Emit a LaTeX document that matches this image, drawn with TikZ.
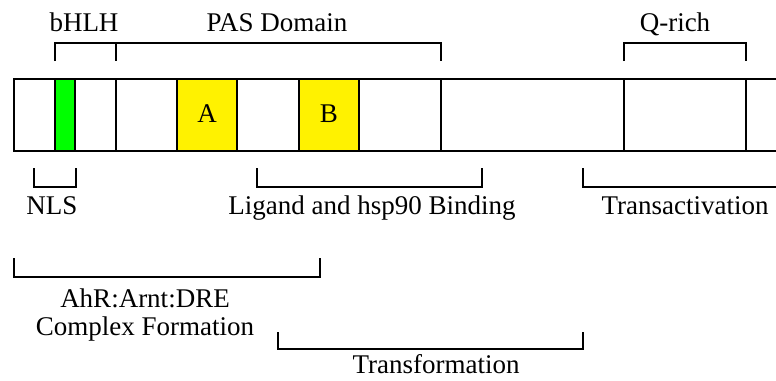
\documentclass[tikz,border=0pt]{standalone}
\usepackage{fontspec}
\setmainfont{Liberation Serif}
\begin{document}
\begin{tikzpicture}[x=1pt,y=-1pt,
  ln/.style={line width=1.6pt,black},
  lbl/.style={inner sep=0pt,anchor=base,font=\fontsize{27}{29}\selectfont},
  brk/.style={ln,line cap=butt,line join=miter}]
\useasboundingbox (0,0) rectangle (776,380);
\clip (0,0) rectangle (776,380);
% coloured segments
\fill[green] (55,79) rectangle (75,151);
\fill[yellow] (177,79) rectangle (237,151);
\fill[yellow] (299,79) rectangle (359,151);
% bar outline
\draw[ln] (780,79) -- (14,79) -- (14,151) -- (780,151);
\foreach \x in {55,75,116,177,237,299,359,441,624,746}
  \draw[ln] (\x,79) -- (\x,151);
\node[lbl] (A) at (207,122) {A};
\node[lbl] (B) at (329,122) {B};
% top brackets
\draw[brk] (55,61) -- (55,43) -- (116,43) -- (116,61);
\draw[brk] (116,43) -- (441,43) -- (441,61);
\draw[brk] (624,61) -- (624,43) -- (746,43) -- (746,61);
\node[lbl] (bhlh) at (84,31) {bHLH};
\node[lbl] (pas) at (277,31) {PAS Domain};
\node[lbl] (qrich) at (675,31) {Q-rich};
% bottom brackets
\draw[brk] (34,168) -- (34,187) -- (76,187) -- (76,168);
\draw[brk] (257,168) -- (257,187) -- (482,187) -- (482,168);
\draw[brk] (583,168) -- (583,187) -- (780,187);
\draw[brk] (14,258) -- (14,277) -- (320,277) -- (320,258);
\draw[brk] (278,332) -- (278,349) -- (583,349) -- (583,332);
\node[lbl] (nls) at (52,214) {NLS};
\node[lbl] (lig) at (372,214) {Ligand and hsp90 Binding};
\node[lbl] (trans) at (685,214) {Transactivation};
\node[lbl] (ahr) at (145,307) {AhR:Arnt:DRE};
\node[lbl] (cplx) at (145,335) {Complex Formation};
\node[lbl] (tf) at (436,373) {Transformation};
\end{tikzpicture}
\end{document}
